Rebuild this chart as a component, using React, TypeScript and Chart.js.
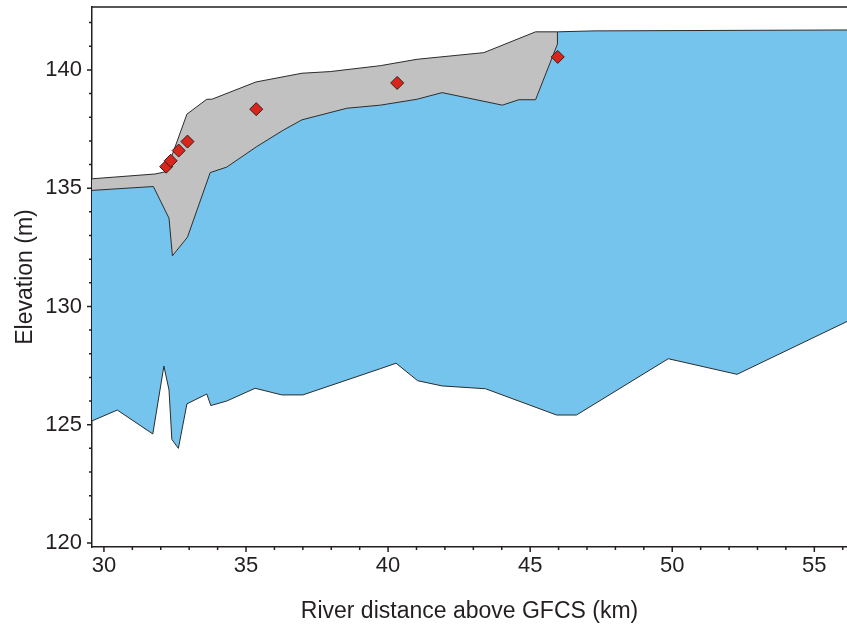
import React, { useEffect, useRef } from "react";
import { Chart, registerables } from "chart.js";

Chart.register(...registerables);

// Upper deposit (gray) top surface
const grayTopX = [29.5, 31.8, 32.19, 32.92, 33.62, 33.8, 35.35, 36.97, 37.97, 39.73, 41.02, 43.37, 45.19, 45.96];
const grayTopY = [135.39, 135.6, 135.7, 138.13, 138.76, 138.76, 139.49, 139.86, 139.93, 140.18, 140.45, 140.73, 141.61, 141.61];

// Water surface / top of blue region
const waterTopX = [29.5, 31.74, 32.29, 32.41, 32.94, 33.74, 34.32, 35.38, 36.32, 36.97, 38.55, 39.73, 41.02, 41.9, 44.02, 44.6, 45.19, 45.96, 45.96, 47.25, 56.3];
const waterTopY = [134.9, 135.07, 133.73, 132.14, 132.93, 135.66, 135.89, 136.76, 137.46, 137.89, 138.38, 138.51, 138.76, 139.04, 138.51, 138.74, 138.74, 141.09, 141.61, 141.65, 141.69];

// Bed elevation
const bedX = [29.5, 30.47, 31.72, 32.11, 32.29, 32.39, 32.62, 32.92, 33.62, 33.76, 34.32, 35.32, 36.26, 37.0, 39.73, 40.28, 41.04, 41.9, 43.43, 45.93, 46.63, 49.86, 52.28, 56.3];
const bedY = [125.12, 125.62, 124.61, 127.48, 126.47, 124.38, 124.0, 125.88, 126.3, 125.81, 126.0, 126.54, 126.26, 126.26, 127.37, 127.6, 126.86, 126.64, 126.52, 125.41, 125.41, 127.79, 127.13, 129.45];

// Sample markers
const sampleX = [32.19, 32.35, 32.63, 32.94, 35.36, 40.32, 45.97];
const sampleY = [135.91, 136.16, 136.59, 136.97, 138.34, 139.45, 140.55];

const xMajorTicks = [30, 35, 40, 45, 50, 55];
const xMinorTicks = [30, 31, 32, 33, 34, 35, 36, 37, 38, 39, 40, 41, 42, 43, 44, 45, 46, 47, 48, 49, 50, 51, 52, 53, 54, 55, 56];
const yMajorTicks = [120, 125, 130, 135, 140];
const yMinorTicks = [120, 121, 122, 123, 124, 125, 126, 127, 128, 129, 130, 131, 132, 133, 134, 135, 136, 137, 138, 139, 140, 141, 142];

const xTitle = "River distance above GFCS (km)";
const yTitle = "Elevation (m)";

const zip = (xs: number[], ys: number[]) => xs.map((x, i) => ({ x, y: ys[i] }));

const INK = "#231f20";
const FONT = "'Liberation Sans', Arial, sans-serif";

const tickMarks = {
  id: "tickMarks",
  afterDraw(chart: any) {
    const { ctx, chartArea, scales } = chart;
    ctx.save();
    ctx.strokeStyle = INK;
    ctx.lineWidth = 1.5;
    ctx.beginPath();
    yMinorTicks.forEach((v) => {
      const py = scales.y.getPixelForValue(v);
      const len = v % 5 === 0 ? 5 : 3;
      ctx.moveTo(chartArea.left - len, py);
      ctx.lineTo(chartArea.left, py);
    });
    xMinorTicks.forEach((v) => {
      const px = scales.x.getPixelForValue(v);
      const len = v % 5 === 0 ? 5 : 3;
      ctx.moveTo(px, chartArea.bottom);
      ctx.lineTo(px, chartArea.bottom + len);
    });
    ctx.moveTo(chartArea.left, chartArea.top);
    ctx.lineTo(chartArea.right, chartArea.top);
    ctx.stroke();
    ctx.restore();
  },
};

export default function App() {
  const ref = useRef<HTMLCanvasElement>(null);
  useEffect(() => {
    if (!ref.current) return;
    const chart = new Chart(ref.current, {
      type: "line",
      data: {
        datasets: [
          {
            data: zip(grayTopX, grayTopY),
            borderColor: "#2b2b2b",
            borderWidth: 1,
            backgroundColor: "#c1c1c1",
            fill: 1,
            pointRadius: 0,
            tension: 0,
            order: 4,
          },
          {
            data: zip(waterTopX, waterTopY),
            borderColor: "#2b2b2b",
            borderWidth: 1,
            backgroundColor: "#74c4ee",
            fill: 2,
            pointRadius: 0,
            tension: 0,
            order: 3,
          },
          {
            data: zip(bedX, bedY),
            borderColor: "#2b2b2b",
            borderWidth: 1,
            fill: false,
            pointRadius: 0,
            tension: 0,
            order: 2,
          },
          {
            data: zip(sampleX, sampleY),
            showLine: false,
            pointStyle: "rectRot",
            pointRadius: 6.5,
            pointBackgroundColor: "#d8261d",
            pointBorderColor: "#3b1a14",
            pointBorderWidth: 1,
            fill: false,
            order: 0,
          },
        ],
      } as any,
      options: {
        animation: false,
        responsive: false,
        maintainAspectRatio: false,
        layout: { autoPadding: false, padding: { top: 7, right: 0, left: 0, bottom: 0 } },
        plugins: { legend: { display: false }, tooltip: { enabled: false } },
        events: [],
        scales: {
          x: {
            type: "linear",
            min: 29.58,
            max: 56.15,
            afterBuildTicks: (s: any) => {
              s.ticks = xMajorTicks.map((v) => ({ value: v }));
            },
            afterFit: (s: any) => {
              s.height = 87;
              s.paddingLeft = 0;
              s.paddingRight = 0;
            },
            ticks: {
              autoSkip: false,
              maxRotation: 0,
              padding: 6,
              color: INK,
              font: { family: FONT, size: 22 },
              callback: (v: any) => String(v),
            },
            grid: { display: false, drawTicks: false },
            border: { display: true, color: INK, width: 1.5 },
            title: {
              display: true,
              text: xTitle,
              color: INK,
              font: { family: FONT, size: 23 },
              padding: { top: 0, bottom: 9 },
            },
          },
          y: {
            type: "linear",
            min: 119.83,
            max: 142.66,
            afterBuildTicks: (s: any) => {
              s.ticks = yMajorTicks.map((v) => ({ value: v }));
            },
            afterFit: (s: any) => {
              s.width = 92;
              s.paddingTop = 0;
              s.paddingBottom = 0;
            },
            ticks: {
              autoSkip: false,
              padding: 10,
              color: INK,
              font: { family: FONT, size: 22 },
              callback: (v: any) => String(v),
            },
            grid: { display: false, drawTicks: false },
            border: { display: true, color: INK, width: 1.5 },
            title: {
              display: true,
              text: yTitle,
              color: INK,
              font: { family: FONT, size: 23 },
              padding: { top: 12, bottom: 0 },
            },
          },
        },
      } as any,
      plugins: [tickMarks],
    });
    return () => chart.destroy();
  }, []);
  return (
    <div style={{ position: "absolute", left: 0, top: 0, width: 847, height: 634, background: "#fff" }}>
      <canvas ref={ref} width={847} height={634} style={{ width: 847, height: 634, display: "block" }} />
    </div>
  );
}
